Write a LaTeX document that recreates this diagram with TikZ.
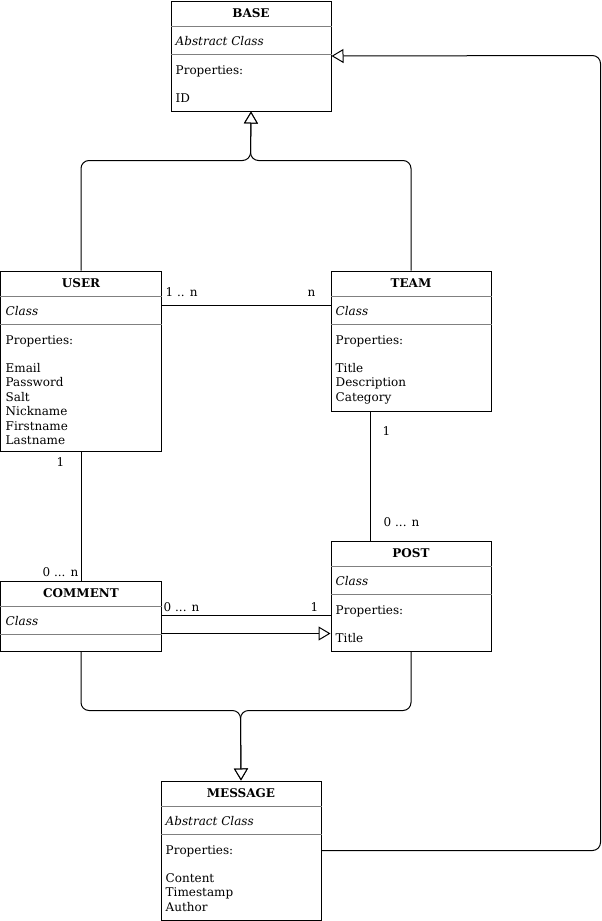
\documentclass[tikz,border=0pt]{standalone}
\usepackage{fontspec}
\setmainfont{DejaVu Serif}
\usetikzlibrary{arrows.meta,calc}
\newcommand{\cfont}{\fontsize{12pt}{14.4pt}\selectfont}
\tikzset{
  classbox/.style={draw, line width=1pt, minimum width=160pt, anchor=north west, inner sep=0pt, fill=white},
  divider/.style={draw=black!50, line width=1pt},
  ctitle/.style={anchor=base, inner sep=0pt, font=\cfont\bfseries},
  ckind/.style={anchor=base west, inner sep=0pt, font=\cfont\itshape},
  ctext/.style={anchor=base west, inner sep=0pt, font=\cfont},
  conn/.style={draw, line width=1pt, rounded corners=8pt},
  inherit/.style={-{Triangle[length=12pt, width=14pt, fill=white, line width=1pt]}},
  mult/.style={inner sep=0pt, font=\cfont},
}
\newcommand{\fieldlist}[1]{\begin{tabular}[t]{@{}l@{}}#1\end{tabular}}
\begin{document}
\begin{tikzpicture}[x=1pt, y=-1pt, font=\cfont]
\useasboundingbox (-0.5,-0.5) rectangle (601.5,920.5);

% ---------- classes ----------
\node[classbox, minimum height=110pt] (base) at (170,0) {};
\node[classbox, minimum height=180pt] (user) at (0,270) {};
\node[classbox, minimum height=140pt] (team) at (330,270) {};
\node[classbox, minimum height=110pt] (post) at (330,540) {};
\node[classbox, minimum height=70pt] (comment) at (0,580) {};
\node[classbox, minimum height=139pt] (message) at (160,780) {};

\foreach \c in {base,user,team,post,comment,message}{
  \draw[divider] ([yshift=-25.5pt]\c.north west) -- ([yshift=-25.5pt]\c.north east);
  \draw[divider] ([yshift=-54pt]\c.north west) -- ([yshift=-54pt]\c.north east);
}

% BASE
\node[ctitle] (base-t) at ([yshift=-17pt]base.north) {BASE};
\node[ckind] (base-k) at ([xshift=5pt,yshift=-45pt]base.north west) {Abstract Class};
\node[ctext] (base-p) at ([xshift=5pt,yshift=-74pt]base.north west) {Properties:};
\node[ctext] (base-f) at ([xshift=5pt,yshift=-102pt]base.north west) {ID};

% USER
\node[ctitle] (user-t) at ([yshift=-17pt]user.north) {USER};
\node[ckind] (user-k) at ([xshift=5pt,yshift=-45pt]user.north west) {Class};
\node[ctext] (user-p) at ([xshift=5pt,yshift=-74pt]user.north west) {Properties:};
\node[ctext] (user-f) at ([xshift=5pt,yshift=-102pt]user.north west) {\fieldlist{Email\\Password\\Salt\\Nickname\\Firstname\\Lastname}};

% TEAM
\node[ctitle] (team-t) at ([yshift=-17pt]team.north) {TEAM};
\node[ckind] (team-k) at ([xshift=5pt,yshift=-45pt]team.north west) {Class};
\node[ctext] (team-p) at ([xshift=5pt,yshift=-74pt]team.north west) {Properties:};
\node[ctext] (team-f) at ([xshift=5pt,yshift=-102pt]team.north west) {\fieldlist{Title\\Description\\Category}};

% POST
\node[ctitle] (post-t) at ([yshift=-17pt]post.north) {POST};
\node[ckind] (post-k) at ([xshift=5pt,yshift=-45pt]post.north west) {Class};
\node[ctext] (post-p) at ([xshift=5pt,yshift=-74pt]post.north west) {Properties:};
\node[ctext] (post-f) at ([xshift=5pt,yshift=-102pt]post.north west) {Title};

% COMMENT
\node[ctitle] (comment-t) at ([yshift=-17pt]comment.north) {COMMENT};
\node[ckind] (comment-k) at ([xshift=5pt,yshift=-45pt]comment.north west) {Class};

% MESSAGE
\node[ctitle] (message-t) at ([yshift=-17pt]message.north) {MESSAGE};
\node[ckind] (message-k) at ([xshift=5pt,yshift=-45pt]message.north west) {Abstract Class};
\node[ctext] (message-p) at ([xshift=5pt,yshift=-74pt]message.north west) {Properties:};
\node[ctext] (message-f) at ([xshift=5pt,yshift=-102pt]message.north west) {\fieldlist{Content\\Timestamp\\Author}};

% ---------- connectors ----------
\coordinate (jtop) at (250,160);
\coordinate (jbot) at (240,710);
\coordinate (rt) at (600,55);

% inheritance to BASE
\draw[conn, inherit] (user.north) |- (jtop) -- (base.south);
\draw[conn, inherit] (team.north) |- (jtop) -- (base.south);
\draw[conn, inherit] (message.east) -| (rt) -- (base.east);

% inheritance to MESSAGE
\draw[conn, inherit] (comment.south) |- (jbot) -- (message.north);
\draw[conn, inherit] (post.south) |- (jbot) -- (message.north);

% USER -- TEAM
\coordinate (ut) at ([yshift=-35pt]user.north east);
\draw[conn] (ut) -- (ut -| team.west);
\node[mult, anchor=base west] (m-ut1) at (165,296) {1 .. n};
\node[mult, anchor=base east] (m-ut2) at (315,296) {n};

% USER -- COMMENT
\draw[conn] (user.south) -- (comment.north);
\node[mult, anchor=base east] (m-uc1) at (64,466) {1};
\node[mult, anchor=base east] (m-uc2) at (78,576) {0 ... n};

% TEAM -- POST
\coordinate (tp) at ([xshift=40pt]team.south west);
\draw[conn] (tp) -- (tp |- post.north);
\node[mult, anchor=base west] (m-tp1) at (382,435) {1};
\node[mult, anchor=base west] (m-tp2) at (383,526) {0 ... n};

% COMMENT -- POST
\coordinate (cp) at ([yshift=-35pt]comment.north east);
\draw[conn] (cp) -- (cp -| post.west);
\node[mult, anchor=base west] (m-cp1) at (163,611) {0 ... n};
\node[mult, anchor=base east] (m-cp2) at (318,611) {1};

% COMMENT inherits POST
\coordinate (ci) at ([yshift=-53pt]comment.north east);
\draw[conn, inherit] (ci) -- (ci -| post.west);
\end{tikzpicture}
\end{document}
